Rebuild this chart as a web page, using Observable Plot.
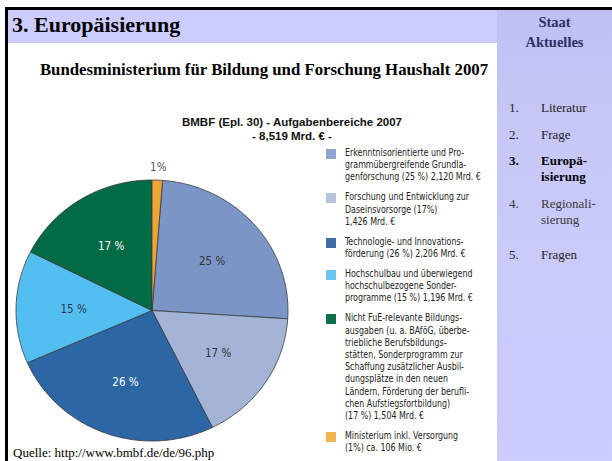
<!DOCTYPE html>
<html>
<head>
<meta charset="utf-8">
<script src="https://cdn.jsdelivr.net/npm/d3@7"></script>
<script src="https://cdn.jsdelivr.net/npm/@observablehq/plot@0.6"></script>
<style>
  html, body { margin: 0; padding: 0; background: #fff; }
  #page { position: relative; width: 612px; height: 461px; overflow: hidden; font-family: "Liberation Serif", "Times New Roman", serif; }
  .abs { position: absolute; }
  #topline { left: 5px; top: 7px; width: 607px; height: 3px; background: #000; }
  #leftline { left: 5px; top: 7px; width: 3px; height: 454px; background: #000; }
  #titleband { left: 8px; top: 10px; width: 489px; height: 33px; background: #ccccff; }
  #sidebar { left: 497px; top: 10px; width: 115px; height: 451px; background: linear-gradient(#bfbff2, #c8c8f8 30%, #ccccff); }
  #title { left: 12px; top: 12px; font-size: 22px; font-weight: bold; color: #000; white-space: nowrap; }
  #subtitle { left: 0px; width: 528px; text-align: center; top: 60px; font-size: 16.8px; font-weight: bold; white-space: nowrap; }
  #side-head { left: 497px; width: 115px; top: 12px; text-align: center; font-size: 14.5px; font-weight: bold; color: #2e2e6a; line-height: 20px; }
  .menu { left: 509px; font-size: 13px; line-height: 16px; color: #222; }
  .menu .n { position: absolute; left: 0; }
  .menu .t { position: absolute; left: 32px; white-space: nowrap; }
  #charttitle { left: 147px; width: 290px; top: 115px; text-align: center; font-family: "Liberation Sans", Arial, sans-serif; font-weight: bold; font-size: 11.5px; line-height: 14px; color: #111; letter-spacing: 0px; white-space: nowrap; }
  #legend { left: 326px; top: 147px; font-family: "DejaVu Sans Condensed", "Liberation Sans Narrow", Arial, sans-serif; font-size: 10px; line-height: 12.2px; color: #222; }
  .entry { position: relative; padding-left: 19px; margin-bottom: 7.8px; white-space: nowrap; }
  .entry .txt { display: inline-block; transform: scaleX(0.88); transform-origin: 0 0; }
  .sw { position: absolute; left: 0; top: 2px; width: 10px; height: 10px; }
  #quelle { left: 13px; top: 446px; font-size: 13px; line-height: 14px; color: #000; white-space: nowrap; }
  #chart { left: 0px; top: 160px; }
</style>
</head>
<body>
<div id="page">
  <div id="titleband" class="abs"></div>
  <div id="sidebar" class="abs"></div>
  <div id="topline" class="abs"></div>
  <div id="leftline" class="abs"></div>
  <div id="title" class="abs">3. Europäisierung</div>
  <div id="subtitle" class="abs">Bundesministerium für Bildung und Forschung Haushalt 2007</div>
  <div id="side-head" class="abs">Staat<br>Aktuelles</div>
  <div id="menu"></div>
  <div id="charttitle" class="abs"></div>
  <div id="chart" class="abs"></div>
  <div id="legend" class="abs"></div>
  <div id="quelle" class="abs">Quelle: http://www.bmbf.de/de/96.php</div>
</div>
<script>
// ---------- data ----------
const categories = [
  "Erkenntnisorientierte und Programmübergreifende Grundlagenforschung",
  "Forschung und Entwicklung zur Daseinsvorsorge",
  "Technologie- und Innovationsförderung",
  "Hochschulbau und überwiegend hochschulbezogene Sonderprogramme",
  "Nicht FuE-relevante Bildungsausgaben",
  "Ministerium inkl. Versorgung"
];
const valuesMrd = [2.120, 1.426, 2.206, 1.196, 1.504, 0.106];
const sliceLabels = ["25 %", "17 %", "26 %", "15 %", "17 %", "1%"];
const legendLines = [
  ["Erkenntnisorientierte und Pro-", "grammübergreifende Grundla-", "genforschung (25 %) 2,120 Mrd. €"],
  ["Forschung und Entwicklung zur", "Daseinsvorsorge (17%)", "1,426 Mrd. €"],
  ["Technologie- und Innovations-", "förderung (26 %) 2,206 Mrd. €"],
  ["Hochschulbau und überwiegend", "hochschulbezogene Sonder-", "programme (15 %) 1,196 Mrd. €"],
  ["Nicht FuE-relevante Bildungs-", "ausgaben (u. a. BAföG, überbe-", "triebliche Berufsbildungs-", "stätten, Sonderprogramm zur", "Schaffung zusätzlicher Ausbil-", "dungsplätze in den neuen", "Ländern, Förderung der berufli-", "chen Aufstiegsfortbildung)", "(17 %) 1,504 Mrd. €"],
  ["Ministerium inkl. Versorgung", "(1%) ca. 106 Mio. €"]
];
const chartTitleLines = ["BMBF (Epl. 30) - Aufgabenbereiche 2007", "- 8,519 Mrd. € -"];
const menuNumbers = ["1.", "2.", "3.", "4.", "5."];
const menuItems = [["Literatur"], ["Frage"], ["Europä-", "isierung"], ["Regionali-", "sierung"], ["Fragen"]];

// ---------- styles ----------
const palette = ["#7b96c6", "#a3b4d7", "#2c66a4", "#53bff0", "#006b45", "#eea536"];
const swatchColors = ["#8fa6d0", "#b7c4df", "#3d6da8", "#6ac6f0", "#0e7048", "#f0b34e"];
const labelColors = ["#333", "#333", "#fff", "#2a3550", "#fff", "#555"];

// ---------- page texts ----------
document.getElementById("charttitle").innerHTML = chartTitleLines.join("<br>");

const menuTops = [100, 127, 153, 196, 247];
const menuEl = document.getElementById("menu");
menuItems.forEach((lines, i) => {
  const d = document.createElement("div");
  d.className = "abs menu";
  d.style.top = menuTops[i] + "px";
  if (i === 2) { d.style.fontWeight = "bold"; d.style.color = "#000"; }
  if (i === 3) { d.style.color = "#3a3a3a"; }
  d.innerHTML = `<span class="n">${menuNumbers[i]}</span><span class="t">${lines.join("<br>")}</span>`;
  menuEl.appendChild(d);
});

const legendEl = document.getElementById("legend");
legendLines.forEach((lines, i) => {
  const e = document.createElement("div");
  e.className = "entry";
  e.innerHTML = `<span class="sw" style="background:${swatchColors[i]}"></span><span class="txt">${lines.join("<br>")}</span>`;
  legendEl.appendChild(e);
});

// ---------- pie ----------
const total = d3.sum(valuesMrd);
// first slice starts right after the last (small) one, which sits at 12 o'clock
const startOffset = valuesMrd[valuesMrd.length - 1] / total * 2 * Math.PI;
const arcs = d3.pie().sort(null).startAngle(startOffset).endAngle(startOffset + 2 * Math.PI)(valuesMrd);
const slices = arcs.map((a, i) => ({
  name: categories[i],
  value: valuesMrd[i],
  label: sliceLabels[i],
  a0: a.startAngle,
  a1: a.endAngle,
  mid: (a.startAngle + a.endAngle) / 2,
  share: valuesMrd[i] / total,
  color: palette[i],
  labelColor: labelColors[i]
}));
const labelR = (d) => d.share < 0.05 ? 1.1 : 0.58;

function pieMark(index, scales) {
  const g = d3.create("svg:g");
  const {x, y} = scales;
  for (const s of slices) {
    const n = Math.max(2, Math.ceil((s.a1 - s.a0) / (Math.PI / 180)));
    const pts = [[x(0), y(0)]];
    for (let k = 0; k <= n; k++) {
      const a = s.a0 + (s.a1 - s.a0) * k / n;
      pts.push([x(Math.sin(a)), y(Math.cos(a))]);
    }
    g.append("path")
      .attr("d", "M" + pts.map(p => p.join(",")).join("L") + "Z")
      .attr("fill", s.color)
      .attr("stroke", "#3a3a3a")
      .attr("stroke-width", 0.8)
      .attr("stroke-linejoin", "round");
  }
  return g.node();
}

const chart = Plot.plot({
  width: 306,
  height: 300,
  marginLeft: 16,
  marginRight: 18,
  marginTop: 20,
  marginBottom: 19,
  x: {domain: [-1, 1], axis: null},
  y: {domain: [-1, 1], axis: null},
  style: {background: "transparent", overflow: "visible"},
  marks: [
    pieMark,
    Plot.text(slices, {
      x: d => Math.sin(d.mid) * labelR(d),
      y: d => Math.cos(d.mid) * labelR(d),
      text: "label",
      fill: "labelColor",
      fontSize: 11.5,
      fontFamily: "'DejaVu Sans Condensed', Arial, sans-serif"
    })
  ]
});
document.getElementById("chart").appendChild(chart);
</script>
</body>
</html>
